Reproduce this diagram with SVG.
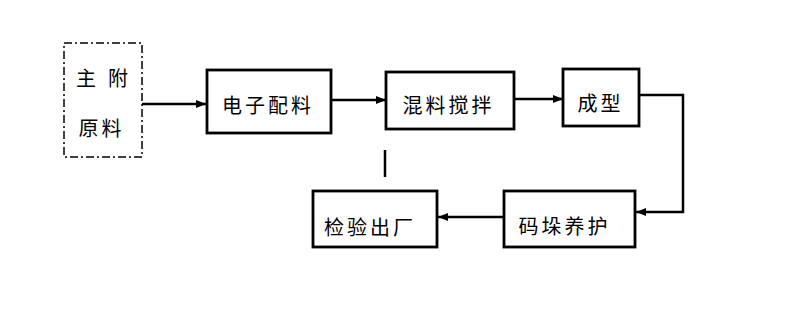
<svg xmlns="http://www.w3.org/2000/svg" width="810" height="318" viewBox="0 0 810 318">
<style>
.box{fill:#fff;stroke:#000;stroke-width:2.8}
.dash{fill:#fff;stroke:#000;stroke-width:1.5;stroke-dasharray:8 3 2 3}
.t{font-family:"Noto Sans CJK SC","Noto Sans",sans-serif;font-size:20px;fill:#000;dominant-baseline:central;text-anchor:middle;letter-spacing:3px}
.s{letter-spacing:0}
.c{fill:none;stroke:#000;stroke-width:2.5}
</style>
<defs>
<marker id="ah" viewBox="0 0 10 8" refX="10" refY="4" markerWidth="10" markerHeight="8" markerUnits="userSpaceOnUse" orient="auto">
<path d="M0,0 L10,4 L0,8 Z" fill="#000"/>
</marker>
</defs>
<rect width="810" height="318" fill="#fff"/>
<g id="connectors">
<line class="c" x1="142" y1="104" x2="206" y2="104" marker-end="url(#ah)"/>
<line class="c" x1="331" y1="100" x2="386" y2="100" marker-end="url(#ah)"/>
<line class="c" x1="514" y1="99" x2="563" y2="99" marker-end="url(#ah)"/>
<polyline class="c" points="639,95 683,95 683,212 636,212" marker-end="url(#ah)"/>
<line class="c" x1="504" y1="217" x2="438" y2="217" marker-end="url(#ah)"/>
<line class="c" x1="385" y1="150" x2="385" y2="177"/>
</g>
<g id="raw">
<rect class="dash" x="64" y="43" width="78" height="114"/>
<text class="t s" x="86" y="77">主</text>
<text class="t s" x="118" y="77">附</text>
<text class="t" x="101.5" y="127">原料</text>
</g>
<g id="peiliao">
<rect class="box" x="207" y="70" width="124" height="63"/>
<text class="t" x="268" y="104">电子配料</text>
</g>
<g id="hunliao">
<rect class="box" x="386" y="72" width="128" height="57"/>
<text class="t" x="448.5" y="104">混料搅拌</text>
</g>
<g id="chengxing">
<rect class="box" x="563" y="69" width="76" height="57"/>
<text class="t" x="600.5" y="102">成型</text>
</g>
<g id="mazhuo">
<rect class="box" x="504" y="191" width="131" height="56"/>
<text class="t" x="564.5" y="225">码垛养护</text>
</g>
<g id="jianyan">
<rect class="box" x="313" y="191" width="124" height="56"/>
<text class="t" x="370" y="226">检验出厂</text>
</g>
</svg>
